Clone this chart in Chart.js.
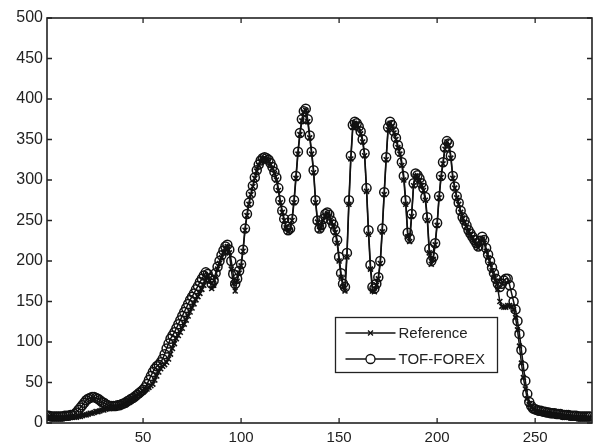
<!DOCTYPE html>
<html>
<head>
<meta charset="utf-8">
<script src="https://cdn.jsdelivr.net/npm/chart.js@4.4.1/dist/chart.umd.min.js"></script>
<style>
  html, body { margin: 0; padding: 0; background: #fff; overflow: hidden; }
  body { width: 605px; height: 446px; position: relative; }
  /* canvas pushed left so the y labels sit close to the edge, like the scan */
  #plot { position: absolute; left: -20px; top: 0; }
</style>
</head>
<body>
<canvas id="plot" width="625" height="446"></canvas>
<script>
// frame index 1..278
const frames = Array.from({ length: 278 }, (_, i) => i + 1);

const xTicks = [50, 100, 150, 200, 250];
const yTicks = [0, 50, 100, 150, 200, 250, 300, 350, 400, 450, 500];

const seriesNames = ["Reference", "TOF-FOREX"];

// TOF-FOREX (circles)
const tofValues = [
  9, 9, 8, 8, 8, 8, 8, 8, 8, 9, 9, 9, 10, 10, 11,
  13, 16, 19, 22, 25, 28, 30, 31, 32, 32, 31, 30, 28, 26, 25,
  23, 22, 21, 21, 21, 21, 22, 22, 23, 24, 25, 27, 28, 30, 31,
  33, 35, 37, 39, 41, 44, 48, 53, 58, 63, 67, 70, 72, 75, 79,
  85, 92, 98, 104, 108, 112, 117, 122, 127, 132, 137, 142, 147, 152, 156,
  160, 165, 169, 174, 178, 182, 186, 184, 178, 172, 176, 185, 193, 200, 207,
  213, 218, 220, 214, 200, 184, 172, 178, 188, 196, 214, 240, 258, 272, 283,
  293, 303, 312, 319, 324, 327, 328, 327, 325, 321, 316, 310, 303, 290, 275,
  262, 252, 243, 238, 240, 252, 275, 305, 335, 358, 375, 385, 388, 375, 355,
  335, 312, 275, 250, 240, 244, 252, 258, 260, 257, 250, 245, 238, 226, 205,
  185, 172, 168, 210, 275, 330, 368, 372, 370, 366, 360, 350, 333, 290, 238,
  195, 168, 166, 172, 180, 200, 240, 285, 328, 365, 372, 368, 360, 352, 343,
  335, 322, 305, 275, 235, 228, 258, 296, 308, 306, 302, 296, 290, 279, 254,
  215, 200, 205, 222, 247, 280, 305, 322, 340, 348, 345, 330, 305, 292, 280,
  272, 262, 254, 250, 244, 238, 234, 230, 226, 222, 218, 225, 230, 226, 216,
  208, 200, 192, 185, 178, 172, 168, 172, 176, 178, 178, 170, 160, 150, 140,
  126, 110, 90, 70, 52, 36, 26, 21, 18, 17, 16, 15, 15, 14, 14,
  13, 13, 12, 12, 12, 11, 11, 11, 10, 10, 10, 10, 9, 9, 9,
  9, 8, 8, 8, 8, 8, 8, 8
];

// Reference (x marks)
const refValues = [
  7, 7, 6, 6, 6, 6, 6, 6, 6, 6, 7, 7, 7, 7, 7,
  7, 8, 8, 9, 10, 10, 11, 12, 12, 13, 14, 14, 15, 16, 16,
  17, 18, 18, 19, 19, 20, 20, 21, 22, 23, 24, 25, 27, 28, 30,
  31, 33, 35, 37, 39, 41, 42, 44, 46, 48, 53, 58, 63, 67, 70,
  72, 75, 79, 85, 92, 98, 104, 108, 112, 117, 122, 127, 132, 137, 142,
  147, 152, 156, 160, 165, 170, 176, 182, 176, 166, 170, 180, 190, 197, 204,
  210, 215, 218, 210, 190, 172, 163, 175, 185, 194, 212, 238, 256, 270, 282,
  292, 302, 311, 318, 323, 326, 327, 326, 323, 319, 314, 308, 300, 287, 272,
  260, 250, 241, 236, 238, 250, 272, 302, 332, 356, 373, 384, 386, 372, 352,
  332, 309, 272, 248, 238, 242, 250, 256, 258, 255, 248, 243, 235, 222, 200,
  180, 168, 163, 205, 270, 326, 365, 370, 368, 364, 357, 347, 330, 286, 233,
  190, 163, 162, 170, 178, 197, 236, 282, 325, 362, 370, 366, 358, 350, 340,
  332, 318, 300, 270, 230, 224, 255, 293, 305, 303, 299, 293, 287, 275, 250,
  210, 196, 202, 220, 244, 278, 303, 320, 338, 347, 343, 327, 302, 290, 278,
  270, 260, 252, 248, 242, 236, 232, 228, 224, 220, 216, 222, 227, 222, 212,
  204, 196, 188, 180, 175, 165, 150, 144, 143, 143, 145, 145, 144, 140, 130,
  115, 95, 74, 56, 42, 30, 23, 19, 17, 15, 14, 13, 13, 12, 12,
  11, 11, 10, 10, 10, 9, 9, 9, 8, 8, 8, 8, 7, 7, 7,
  7, 6, 6, 6, 6, 6, 6, 6
];

const ink = "#111";
const font = "Liberation Sans, Arial, sans-serif";

let refStyle = { pointStyle: "crossRot", radius: 3.5, borderWidth: 1.6 };
let tofStyle = { pointStyle: "circle", radius: 4.5, borderWidth: 1.5 };

// box round the axes with inward ticks on all four sides, matlab style
const frameBox = {
  id: "frameBox",
  afterDraw(chart) {
    const { ctx, chartArea: a, scales } = chart;
    ctx.save();
    ctx.strokeStyle = "#222";
    ctx.lineWidth = 1.6;
    ctx.strokeRect(a.left, a.top, a.right - a.left, a.bottom - a.top);
    ctx.lineWidth = 1.3;
    ctx.beginPath();
    xTicks.forEach((v) => {
      let px = scales.x.getPixelForValue(v);
      ctx.moveTo(px, a.bottom);
      ctx.lineTo(px, a.bottom - 5);
      ctx.moveTo(px, a.top);
      ctx.lineTo(px, a.top + 5);
    });
    yTicks.forEach((v) => {
      let py = scales.y.getPixelForValue(v);
      ctx.moveTo(a.left, py);
      ctx.lineTo(a.left + 5, py);
      ctx.moveTo(a.right, py);
      ctx.lineTo(a.right - 5, py);
    });
    ctx.stroke();

    // legend box, lower right
    const lx = 355.5, ly = 317.5, lw = 162, lh = 55;
    ctx.fillStyle = "#fff";
    ctx.fillRect(lx, ly, lw, lh);
    ctx.strokeStyle = "#222";
    ctx.lineWidth = 1.3;
    ctx.strokeRect(lx, ly, lw, lh);
    const styles = [refStyle, tofStyle];
    const rows = [333, 359];
    ctx.font = "15px " + font;
    ctx.textBaseline = "middle";
    for (let i = 0; i < seriesNames.length; i++) {
      ctx.strokeStyle = ink;
      ctx.lineWidth = 1.3;
      ctx.beginPath();
      ctx.moveTo(lx + 10, rows[i]);
      ctx.lineTo(lx + 60, rows[i]);
      ctx.stroke();
      ctx.fillStyle = i === 0 ? ink : "#fff";
      Chart.helpers.drawPoint(ctx, {
        pointStyle: styles[i].pointStyle,
        radius: styles[i].radius,
        borderWidth: styles[i].borderWidth,
        rotation: 0
      }, lx + 35, rows[i]);
      ctx.fillStyle = "#222";
      ctx.fillText(seriesNames[i], lx + 63, rows[i] + 1);
    }
    ctx.restore();
  },
};

let ctx = document.getElementById("plot").getContext("2d");
let chart = new Chart(ctx, {
  type: "line",
  data: {
    datasets: [
      {
        label: seriesNames[0],
        data: frames.map((f, i) => ({ x: f, y: refValues[i] })),
        borderColor: ink,
        borderWidth: 1.5,
        pointStyle: refStyle.pointStyle,
        pointRadius: refStyle.radius,
        pointBorderWidth: refStyle.borderWidth,
        pointBorderColor: ink,
        pointBackgroundColor: ink,
        tension: 0,
      },
      {
        label: seriesNames[1],
        data: frames.map((f, i) => ({ x: f, y: tofValues[i] })),
        borderColor: ink,
        borderWidth: 1.5,
        pointStyle: tofStyle.pointStyle,
        pointRadius: tofStyle.radius,
        pointBorderWidth: tofStyle.borderWidth,
        pointBorderColor: ink,
        pointBackgroundColor: "rgba(0,0,0,0)",
        tension: 0,
      },
    ],
  },
  options: {
    responsive: false,
    animation: false,
    events: [],
    layout: { padding: { top: 18, right: 13, left: 0, bottom: 0 } },
    plugins: {
      legend: { display: false },
      tooltip: { enabled: false },
    },
    scales: {
      x: {
        type: "linear",
        min: 1,
        max: 279,
        afterBuildTicks: (scale) => {
          scale.ticks = xTicks.map((v) => ({ value: v }));
        },
        afterFit: (scale) => {
          scale.height = 23;
        },
        grid: { display: false, drawTicks: false },
        border: { display: false },
        ticks: {
          padding: 6,
          maxRotation: 0,
          color: "#222",
          font: { family: font, size: 15 },
        },
      },
      y: {
        min: 0,
        max: 500,
        afterBuildTicks: (scale) => {
          scale.ticks = yTicks.map((v) => ({ value: v }));
        },
        afterFit: (scale) => {
          scale.width = 67;
        },
        grid: { display: false, drawTicks: false },
        border: { display: false },
        ticks: {
          padding: 4,
          color: "#222",
          font: { family: font, size: 16 },
        },
      },
    },
  },
  plugins: [frameBox],
});
</script>
</body>
</html>
